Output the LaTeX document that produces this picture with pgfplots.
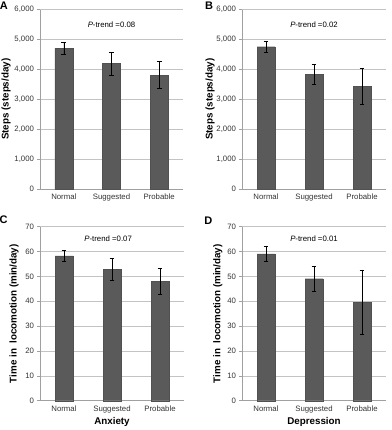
\documentclass[border=0pt]{standalone}
\usepackage{pgfplots}
\pgfplotsset{compat=1.18}
\usepackage{fontspec}
\setmainfont{Liberation Sans}
\definecolor{barc}{RGB}{90,90,90}
\definecolor{gridc}{RGB}{195,195,195}
\definecolor{axc}{RGB}{160,160,160}
\tikzset{
  ptrend/.style={font=\fontsize{7.8bp}{8bp}\selectfont},
  letter/.style={font=\fontsize{11bp}{12bp}\selectfont\bfseries, anchor=center},
}
\pgfplotsset{
  panel/.style={
    scale only axis,
    anchor=south west,
    xmin=-0.5, xmax=2.5,
    ymin=0,
    xtick={0,1,2},
    xticklabels={Normal,Suggested,Probable},
    major x tick style={draw=none},
    axis x line*=bottom,
    axis y line*=left,
    axis line style={draw=axc, line width=0.6pt},
    ymajorgrids,
    major grid style={draw=gridc, line width=0.6pt},
    ytick style={draw=axc, line width=0.6pt},
    tick align=outside,
    major tick length=3bp,
    tick label style={font=\fontsize{7.8bp}{8bp}\selectfont, text=black!80},
    /pgf/number format/assume math mode=true,
    /pgf/number format/.cd, 1000 sep={,},
    /pgfplots/.cd,
    xticklabel style={yshift=1.5bp},
    yticklabel style={xshift=0.5bp},
    ylabel style={font=\fontsize{9.8bp}{10bp}\selectfont\bfseries, anchor=center},
    xlabel style={font=\fontsize{9.8bp}{10bp}\selectfont\bfseries},
    clip=false,
  },
  barplot/.style={
    ybar, bar width=18bp, fill=barc, draw=barc!90!black, line width=0.3pt,
    error bars/.cd, y dir=both, y explicit,
    error bar style={black, line width=0.6pt},
    error mark options={rotate=90, mark size=2.4bp, black, line width=0.6pt},
  },
}
\begin{document}
\begin{tikzpicture}
\path[use as bounding box] (0,0) rectangle (392bp,430bp);
% Panel A
\begin{axis}[panel, at={(40bp,241bp)}, width=143bp, height=179.5bp,
  ymax=6000, ytick={0,1000,...,6000},
  ylabel={Steps (steps/day)}, ylabel style={at={(axis description cs:-0.238,0.5)}}]
\addplot[barplot] coordinates {
  (0,4700) +- (0,190)
  (1,4200) +- (0,385)
  (2,3810) +- (0,455)
};
\node[ptrend] at (axis cs:1,5480) {\textit{P}-trend =0.08};
\node[letter] at (axis description cs:-0.252,1.022) {A};
\end{axis}
% Panel B
\begin{axis}[panel, at={(242bp,241bp)}, width=144bp, height=179.5bp,
  ymax=6000, ytick={0,1000,...,6000},
  ylabel={Steps (steps/day)}, ylabel style={at={(axis description cs:-0.222,0.5)}}]
\addplot[barplot] coordinates {
  (0,4755) +- (0,185)
  (1,3840) +- (0,330)
  (2,3440) +- (0,610)
};
\node[ptrend] at (axis cs:1,5480) {\textit{P}-trend =0.02};
\node[letter] at (axis description cs:-0.229,1.022) {B};
\end{axis}
% Panel C
\begin{axis}[panel, at={(40bp,29.3bp)}, width=144bp, height=174bp,
  ymax=70, ytick={0,10,...,70},
  ylabel={Time in\ \ locomotion (min/day)}, ylabel style={at={(axis description cs:-0.18,0.5)}},
  xlabel={Anxiety}, xlabel style={yshift=2bp}]
\addplot[barplot] coordinates {
  (0,58.3) +- (0,2.35)
  (1,52.8) +- (0,4.4)
  (2,48.0) +- (0,5.1)
};
\node[ptrend] at (axis cs:0.92,65) {\textit{P}-trend =0.07};
\node[letter] at (axis description cs:-0.253,1.039) {C};
\end{axis}
% Panel D
\begin{axis}[panel, at={(242bp,29.3bp)}, width=144bp, height=174bp,
  ymax=70, ytick={0,10,...,70},
  ylabel={Time in\ \ locomotion (min/day)}, ylabel style={at={(axis description cs:-0.167,0.5)}},
  xlabel={Depression}, xlabel style={yshift=2bp}]
\addplot[barplot] coordinates {
  (0,59.1) +- (0,2.85)
  (1,49.1) +- (0,5.1)
  (2,39.7) +- (0,12.8)
};
\node[ptrend] at (axis cs:1,65) {\textit{P}-trend =0.01};
\node[letter] at (axis description cs:-0.233,1.033) {D};
\end{axis}
\end{tikzpicture}
\end{document}
